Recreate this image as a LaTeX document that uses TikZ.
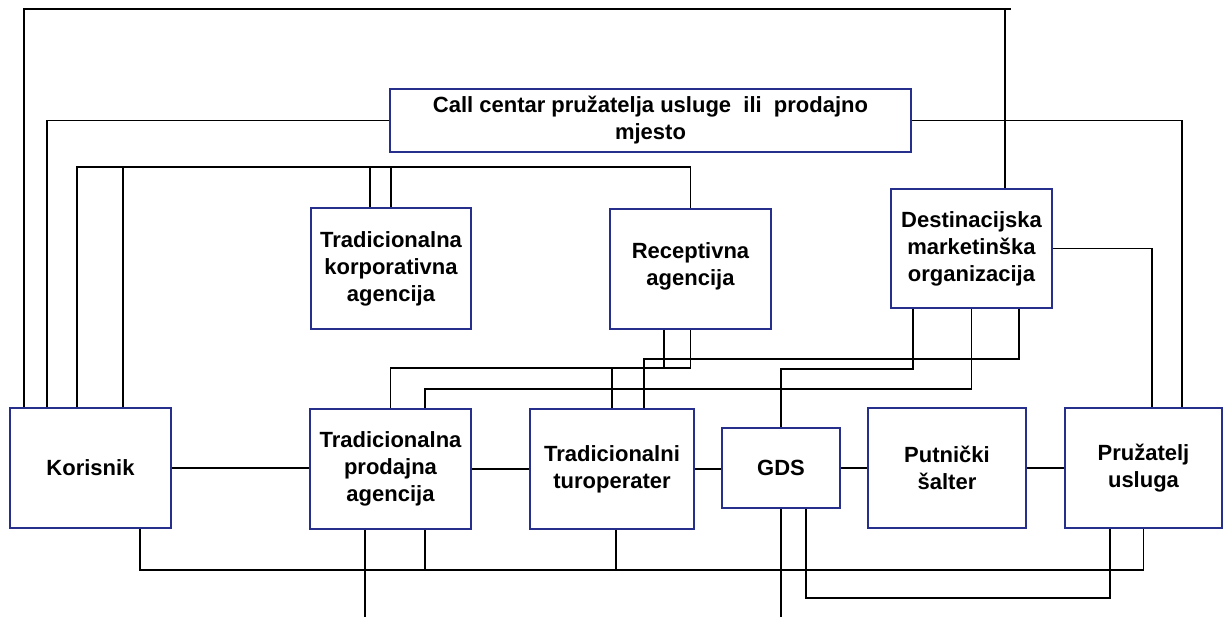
\documentclass[tikz,border=0pt]{standalone}
\usepackage{fontspec}
\setmainfont{Liberation Sans}
\usetikzlibrary{calc}
\definecolor{boxblue}{RGB}{38,48,140}
\tikzset{
  box/.style={draw=boxblue, line width=1.8pt, fill=white, inner sep=0pt, align=center,
              font=\fontsize{22}{27}\selectfont\bfseries},
  link/.style={draw=black, line width=1.9pt, line join=miter}
}
\begin{document}
\begin{tikzpicture}[x=1pt,y=-1pt]
\useasboundingbox (0,0) rectangle (1232,617);
\coordinate (e1) at (365,617);
\coordinate (e2) at (781,617);
\coordinate (ov) at (1011,9);
% nodes
\node[box, minimum width=161pt, minimum height=120pt] (kor) at (90.5,468) {Korisnik};
\node[box, minimum width=161pt, minimum height=120pt] (tpa) at (390.5,469) {Tradicionalna\\prodajna\\agencija};
\node[box, minimum width=164pt, minimum height=120pt] (tto) at (612,469) {Tradicionalni\\turoperater};
\node[box, minimum width=118pt, minimum height=80pt] (gds) at (781,468) {GDS};
\node[box, minimum width=158pt, minimum height=120pt] (pso) at (947,468) {Putnički\\šalter};
\node[box, minimum width=157pt, minimum height=120pt] (pru) at (1143.5,468) {Pružatelj\\usluga};
\node[box, minimum width=160pt, minimum height=121pt] (tka) at (391,268.5) {Tradicionalna\\korporativna\\agencija};
\node[box, minimum width=161pt, minimum height=120pt, text depth=10pt] (rec) at (690.5,269) {Receptivna\\agencija};
\node[box, minimum width=161pt, minimum height=119pt] (dmo) at (971.5,248.5) {Destinacijska\\marketinška\\organizacija};
\node[box, minimum width=521pt, minimum height=63pt] (cc) at (650.5,120.5) {Call centar pružatelja usluge\ \ ili\ \ prodajno\\mjesto};
% top outer loop
\draw[link] (24,0 |- kor.north) -- (24,9) -- (ov);
\draw[link] (1005,9) -- (1005,0 |- dmo.north);
% call centre
\draw[link] (47,0 |- kor.north) |- (cc.west);
\draw[link] (cc.east) -| (1182,0 |- pru.north);
% korisnik to corporate / receptive
\draw[link] (77,0 |- kor.north) -- (77,167) -| (rec.north);
\draw[link] (123,0 |- kor.north) -- (123,167);
\draw[link] (370,0 |- tka.north) -- (370,167);
\draw[link] (tka.north) -- (tka.north |- 0,167);
% receptive down
\draw[link] (rec.south) -- (rec.south |- 0,368) -| (tpa.north);
\draw[link] (664,0 |- rec.south) -- (664,368) -| (tto.north);
% DMO down
\draw[link] (1019,0 |- dmo.south) -- (1019,359) -| (644,0 |- tto.north);
\draw[link] (dmo.south) -- (dmo.south |- 0,389) -| (425,0 |- tpa.north);
\draw[link] (913,0 |- dmo.south) -- (913,369) -| (gds.north);
\draw[link] (dmo.east) -| (1152,0 |- pru.north);
% middle row
\draw[link] (kor.east) -- (kor.east -| tpa.west);
\draw[link] (tpa.east) -- (tpa.east -| tto.west);
\draw[link] (tto.east) -- (tto.east -| gds.west);
\draw[link] (gds.east) -- (gds.east -| pso.west);
\draw[link] (pso.east) -- (pso.east -| pru.west);
% bottom
\draw[link] (140,0 |- kor.south) -- (140,570) -| (pru.south);
\draw[link] (425,0 |- tpa.south) -- (425,570);
\draw[link] (616,0 |- tto.south) -- (616,570);
\draw[link] (365,0 |- tpa.south) -- (e1);
\draw[link] (gds.south) -- (e2);
\draw[link] (806,0 |- gds.south) -- (806,598) -| (1110,0 |- pru.south);
\end{tikzpicture}
\end{document}
